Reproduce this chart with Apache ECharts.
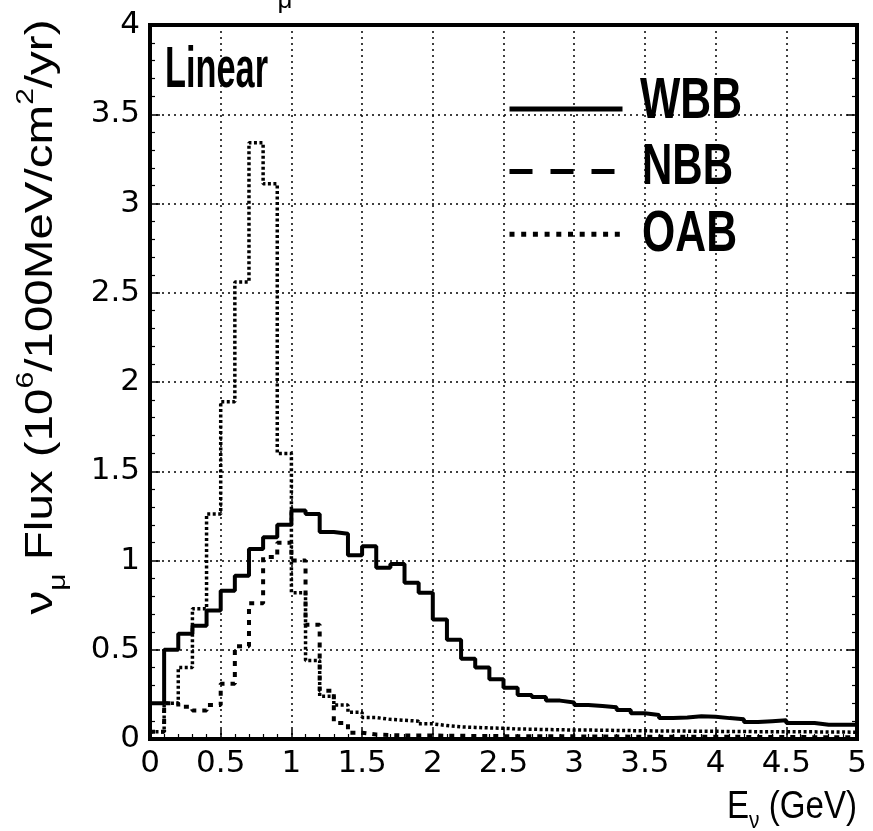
<!DOCTYPE html>
<html><head><meta charset="utf-8">
<script src="https://cdn.jsdelivr.net/npm/echarts@6/dist/echarts.min.js"></script>
<style>html,body{margin:0;padding:0;background:#fff}#c{width:873px;height:831px}</style>
</head><body><div id="c"></div>
<script>
// ---- data ----
const binEdges = [0.0,0.1,0.2,0.3,0.4,0.5,0.6,0.7,0.8,0.9,
  1.0,1.1,1.2,1.3,1.4,1.5,1.6,1.7,1.8,1.9,
  2.0,2.1,2.2,2.3,2.4,2.5,2.6,2.7,2.8,2.9,
  3.0,3.1,3.2,3.3,3.4,3.5,3.6,3.7,3.8,3.9,
  4.0,4.1,4.2,4.3,4.4,4.5,4.6,4.7,4.8,4.9];
const xEnd = 5.0;
const wbbFlux = [0.20,0.50,0.59,0.635,0.72,0.83,0.915,1.065,1.13,1.20,
  1.28,1.26,1.16,1.15,1.03,1.08,0.96,0.98,0.875,0.82,
  0.67,0.556,0.45,0.40,0.335,0.287,0.247,0.235,0.215,0.205,
  0.19,0.185,0.178,0.163,0.144,0.135,0.117,0.12,0.127,0.125,
  0.117,0.11,0.095,0.10,0.105,0.09,0.09,0.08,0.08,0.08];
const nbbFlux = [0.04,0.20,0.18,0.16,0.19,0.31,0.52,0.76,1.02,1.10,
  1.00,0.64,0.27,0.09,0.035,0.025,0.022,0.02,0.02,0.02,
  0.018,0.018,0.017,0.017,0.016,0.016,0.015,0.015,0.015,0.015,
  0.014,0.014,0.014,0.013,0.013,0.013,0.013,0.012,0.012,0.012,
  0.012,0.012,0.011,0.011,0.011,0.011,0.010,0.010,0.010,0.010];
const oabFlux = [0.04,0.20,0.40,0.73,1.26,1.89,2.56,3.34,3.11,1.60,
  0.82,0.44,0.24,0.19,0.15,0.12,0.11,0.105,0.10,0.085,
  0.075,0.068,0.065,0.062,0.06,0.056,0.055,0.053,0.052,0.05,
  0.05,0.049,0.048,0.047,0.046,0.045,0.045,0.044,0.043,0.043,
  0.042,0.042,0.041,0.041,0.04,0.04,0.04,0.039,0.039,0.038];
const seriesNames = ['WBB','NBB','OAB'];
const xRange = [0, 5], xStep = 0.5;
const yRange = [0, 4], yStep = 0.5;

// ---- helpers ----
function steps(vals){
  const d = binEdges.map((e,i)=>[e, vals[i]]);
  d.push([xEnd, vals[vals.length-1]]);
  return d;
}
const mctx = document.createElement('canvas').getContext('2d');
function tw(t, f){ mctx.font = f; return mctx.measureText(t).width; }
const FF = 'Liberation Sans';

const yb = 38, ys = 24;
const yLen = tw('ν', yb+'px '+FF) + tw('μ', ys+'px '+FF) + tw(' Flux (10', yb+'px '+FF)
  + tw('6', ys+'px '+FF) + tw('/100MeV/cm', yb+'px '+FF) + tw('2', ys+'px '+FF) + tw('/yr)', yb+'px '+FF);
const yScale = 595 / yLen;
const xLen = tw('E', '38px '+FF) + tw('ν', '24px '+FF) + tw(' (GeV)', '38px '+FF);
const xScale = 130 / xLen;

const chart = echarts.init(document.getElementById('c'), null, {renderer:'canvas'});
const black = '#000';
const axisCommon = {
  axisLine: { show: true, lineStyle: { color: black, width: 4 } },
  axisTick: { show: true, inside: true, length: 10, lineStyle: { color: black, width: 1.5 } },
  minorTick: { show: true, splitNumber: 5, length: 5, lineStyle: { color: black, width: 1.2 } }
};
const option = {
  animation: false,
  backgroundColor: '#fff',
  grid: { left: 150, right: 16, top: 25, bottom: 92, show: true, borderColor: black, borderWidth: 4, backgroundColor: 'transparent' },
  legend: {
    orient: 'vertical', left: 507, top: 102, padding: 0,
    itemWidth: 113, itemHeight: 14, itemGap: 50,
    formatter: () => '',
    itemStyle: { opacity: 0 },
    data: [
      { name: 'WBB', itemStyle: { opacity: 0 }, lineStyle: { color: black, width: 5, type: 'solid' } },
      { name: 'NBB', itemStyle: { opacity: 0 }, lineStyle: { color: black, width: 5, type: [23, 18] } },
      { name: 'OAB', itemStyle: { opacity: 0 }, lineStyle: { color: black, width: 5, type: [5, 6.7] } }
    ],
    selectedMode: false
  },
  xAxis: Object.assign({
    type: 'value', min: xRange[0], max: xRange[1], interval: xStep,
    axisLabel: { color: black, fontFamily: 'DejaVu Sans', fontSize: 31, margin: 9,
      formatter: v => String(+v.toFixed(1)) },
    splitLine: { show: true, lineStyle: { color: black, width: 1.5, type: [2, 4] } }
  }, axisCommon),
  yAxis: [Object.assign({
    type: 'value', min: yRange[0], max: yRange[1], interval: yStep,
    axisLabel: { color: black, fontFamily: 'DejaVu Sans', fontSize: 31, margin: 10,
      formatter: v => String(+v.toFixed(1)) },
    splitLine: { show: true, lineStyle: { color: black, width: 1.5, type: [2, 4] } }
  }, axisCommon), Object.assign({
    type: 'value', position: 'right', min: yRange[0], max: yRange[1], interval: yStep,
    axisLabel: { show: false }, splitLine: { show: false }
  }, axisCommon)],
  series: [
    { name: seriesNames[0], type: 'line', step: 'end', symbol: 'none', data: steps(wbbFlux),
      lineStyle: { color: black, width: 4, type: 'solid' }, itemStyle: { color: black }, z: 5 },
    { name: seriesNames[1], type: 'line', step: 'end', symbol: 'none', data: steps(nbbFlux),
      lineStyle: { color: black, width: 4, type: [5, 6] }, itemStyle: { color: black }, z: 4 },
    { name: seriesNames[2], type: 'line', step: 'end', symbol: 'none', data: steps(oabFlux),
      lineStyle: { color: black, width: 3.5, type: [3, 2.5] }, itemStyle: { color: black }, z: 3 }
  ],
  graphic: [
    { type: 'text', x: 42, y: 317, rotation: Math.PI/2, scaleX: yScale, scaleY: 1,
      style: { text: '{b|ν}{s|μ}{b| Flux (10}{p|6}{b|/100MeV/cm}{p|2}{b|/yr)}',
        align: 'center', verticalAlign: 'middle', fill: black,
        rich: {
          b: { fontFamily: FF, fontSize: yb, lineHeight: 56, verticalAlign: 'middle', fill: black },
          s: { fontFamily: FF, fontSize: ys, lineHeight: 24, verticalAlign: 'bottom', fill: black },
          p: { fontFamily: FF, fontSize: ys, lineHeight: 24, verticalAlign: 'top', fill: black }
        } } },
    { type: 'text', x: 857, y: 808, scaleX: xScale,
      style: { text: '{b|E}{s|ν}{b| (GeV)}', align: 'right', verticalAlign: 'middle', fill: black,
        rich: {
          b: { fontFamily: FF, fontSize: 38, lineHeight: 50, verticalAlign: 'middle', fill: black },
          s: { fontFamily: FF, fontSize: 24, lineHeight: 24, verticalAlign: 'bottom', fill: black }
        } } },
    { type: 'text', x: 165, y: 71, scaleX: 103 / tw('Linear', 'bold 58px '+FF),
      style: { text: 'Linear', fontFamily: FF, fontWeight: 'bold', fontSize: 58, align: 'left', verticalAlign: 'middle', fill: black } },
    { type: 'text', x: 640, y: 102, scaleX: 102 / tw('WBB', 'bold 57px '+FF),
      style: { text: 'WBB', fontFamily: FF, fontWeight: 'bold', fontSize: 57, align: 'left', verticalAlign: 'middle', fill: black } },
    { type: 'text', x: 642, y: 168, scaleX: 91 / tw('NBB', 'bold 57px '+FF),
      style: { text: 'NBB', fontFamily: FF, fontWeight: 'bold', fontSize: 57, align: 'left', verticalAlign: 'middle', fill: black } },
    { type: 'text', x: 642, y: 235, scaleX: 95 / tw('OAB', 'bold 57px '+FF),
      style: { text: 'OAB', fontFamily: FF, fontWeight: 'bold', fontSize: 57, align: 'left', verticalAlign: 'middle', fill: black } },
    { type: 'text', x: 285, y: 14,
      style: { text: 'μ', fontFamily: FF, fontSize: 26, align: 'center', verticalAlign: 'bottom', fill: black } }
  ]
};
chart.setOption(option);
</script></body></html>
